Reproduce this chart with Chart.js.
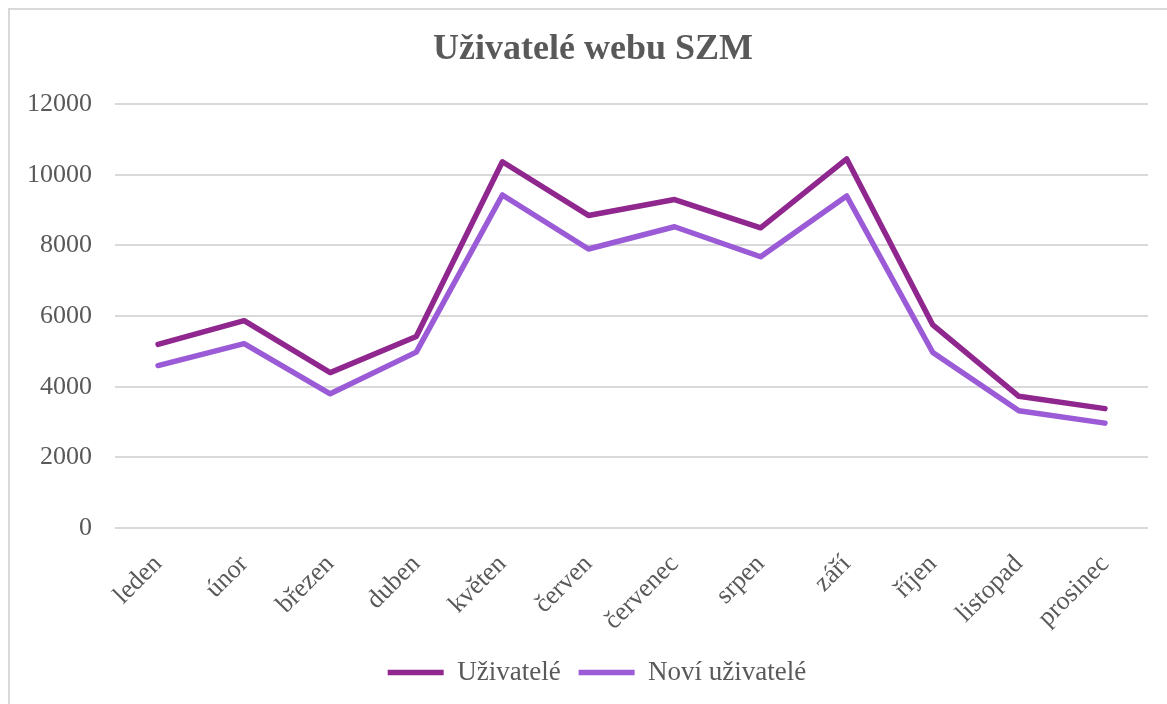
<!DOCTYPE html>
<html>
<head>
<meta charset="utf-8">
<script src="https://cdn.jsdelivr.net/npm/chart.js@4.4.1/dist/chart.umd.min.js"></script>
<style>
  html, body { margin: 0; padding: 0; background: #ffffff; }
  #wrap { position: relative; width: 1167px; height: 704px; overflow: hidden; }
  #frame { position: absolute; left: 8px; top: 8px; width: 1200px; height: 800px;
           border-top: 2px solid #d9d9d9; border-left: 2px solid #d9d9d9; box-sizing: border-box; }
  canvas { position: absolute; left: 0; top: 0; }
</style>
</head>
<body>
<div id="wrap">
  <div id="frame"></div>
  <canvas id="c" width="1167" height="704"></canvas>
</div>
<script>
const categories = ["leden", "únor", "březen", "duben", "květen", "červen", "červenec", "srpen", "září", "říjen", "listopad", "prosinec"];
const uzivatele = [5200, 5870, 4400, 5420, 10370, 8850, 9300, 8500, 10450, 5750, 3730, 3380];
const noviUzivatele = [4600, 5220, 3800, 4980, 9430, 7900, 8530, 7680, 9400, 4970, 3320, 2970];
const yTicks = [0, 2000, 4000, 6000, 8000, 10000, 12000];
const titleText = "Uživatelé webu SZM";
const seriesNames = ["Uživatelé", "Noví uživatelé"];

const FONT = "'Liberation Serif', 'Times New Roman', serif";
const TEXT = "#595959";

const shiftBlocks = {
  id: "shiftBlocks",
  afterLayout(chart) {
    if (chart.titleBlock) { chart.titleBlock.left += 19; chart.titleBlock.right += 19; }
    if (chart.legend) { chart.legend.left += 23; chart.legend.right += 23; }
  }
};

new Chart(document.getElementById("c"), {
  type: "line",
  data: {
    labels: categories,
    datasets: [
      { label: seriesNames[0], data: uzivatele, borderColor: "#8f278f", backgroundColor: "#8f278f",
        borderWidth: 5.5, pointRadius: 0, tension: 0, borderCapStyle: "round", borderJoinStyle: "round" },
      { label: seriesNames[1], data: noviUzivatele, borderColor: "#9c5bd6", backgroundColor: "#9c5bd6",
        borderWidth: 5.5, pointRadius: 0, tension: 0, borderCapStyle: "round", borderJoinStyle: "round" }
    ]
  },
  options: {
    responsive: false,
    animation: false,
    layout: { padding: { left: 0, right: 19, top: 0, bottom: 8 } },
    plugins: {
      tooltip: { enabled: false },
      title: {
        display: true, text: titleText, color: TEXT,
        font: { family: FONT, size: 36, weight: "bold", lineHeight: 1.2 },
        padding: { top: 28, bottom: 33 }
      },
      legend: {
        position: "bottom",
        labels: {
          color: TEXT, font: { family: FONT, size: 27 },
          usePointStyle: true, pointStyle: "line", pointStyleWidth: 56, boxHeight: 26,
          padding: 18
        }
      }
    },
    scales: {
      x: {
        offset: true,
        grid: { display: false, drawTicks: false },
        border: { display: false },
        ticks: { color: TEXT, font: { family: FONT, size: 26 }, minRotation: 45, maxRotation: 45, padding: 21, autoSkip: false },
        afterFit: (s) => { s.height = 113; }
      },
      y: {
        min: 0, max: 12000,
        afterBuildTicks: (s) => { s.ticks = yTicks.map(v => ({ value: v })); },
        grid: { color: "#d9d9d9", lineWidth: 2, drawTicks: false },
        border: { display: false },
        ticks: { color: TEXT, font: { family: FONT, size: 26 }, padding: 23, callback: (v) => String(v) },
        afterFit: (s) => { s.width = 115; }
      }
    }
  },
  plugins: [shiftBlocks]
});
</script>
</body>
</html>
